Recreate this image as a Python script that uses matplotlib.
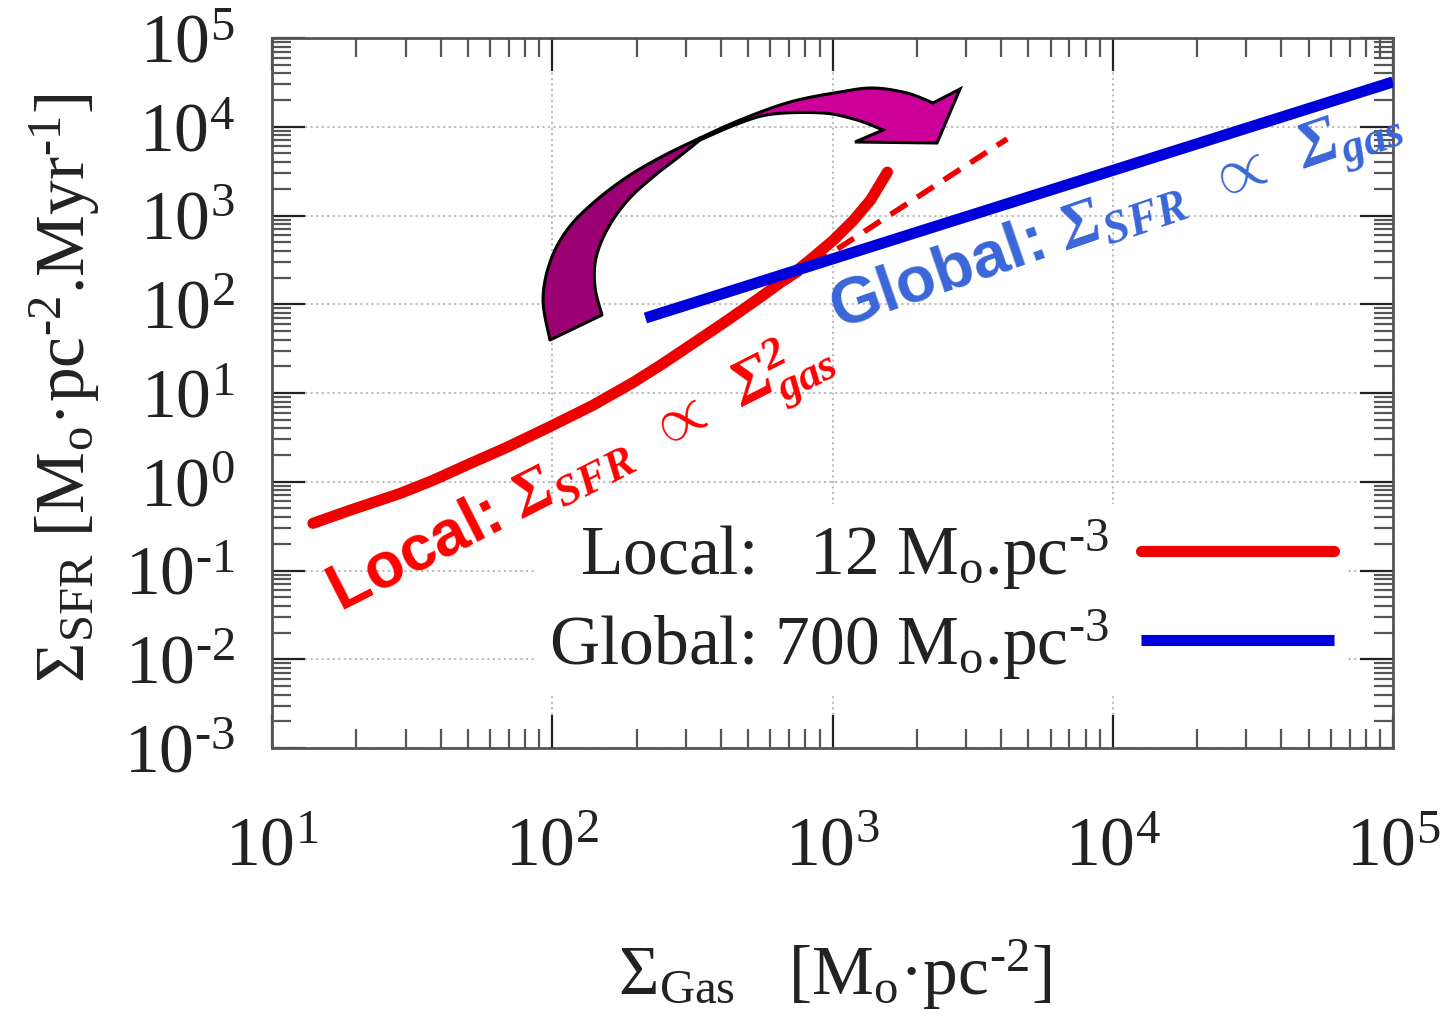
import numpy as np
import matplotlib
matplotlib.use('Agg')
import matplotlib.pyplot as plt
from matplotlib.patches import Polygon
from matplotlib.ticker import LogLocator, NullFormatter, FuncFormatter

plt.rcParams['font.family'] = ['Liberation Serif', 'DejaVu Serif']
plt.rcParams['mathtext.fontset'] = 'custom'
plt.rcParams['mathtext.rm'] = 'Liberation Serif'
plt.rcParams['mathtext.it'] = 'Liberation Serif:italic'
plt.rcParams['mathtext.bf'] = 'Liberation Serif:italic:bold'

# local relation (rho = 12 Mo/pc^3)
gas_local = [14, 19, 28.7, 37.6, 49.7, 69, 100, 140, 194, 243, 319, 422, 553, 726, 855, 1008, 1189, 1367, 1570]
sfr_local = [0.34, 0.478, 0.74, 1.04, 1.55, 2.45, 4.3, 7.3, 13.1, 20.5, 36.4, 66, 120, 224, 340, 528, 887, 1493, 3083]
# slope-2 guide (dashed)
gas_fit = [350, 4200]
sfr_fit = [45, 7300]
# global relation (rho = 700 Mo/pc^3)
gas_global = [215, 1e5]
sfr_global = [70, 32000]

labels = [r'Local:   12 M$_{\rm o}$.pc$^{\text{-}3}$',
          r'Global: 700 M$_{\rm o}$.pc$^{\text{-}3}$']

W, H = 1446, 1022
fig = plt.figure(figsize=(W / 100, H / 100), dpi=100)
ax = fig.add_axes([272 / W, 1 - 748 / H, (1393 - 272) / W, (748 - 38) / H])

ax.plot(gas_local, sfr_local, color='#ee0000', lw=8, solid_capstyle='round',
        solid_joinstyle='round', label=labels[0], zorder=4)
ax.plot(gas_fit, sfr_fit, color='#ee0000', lw=4, ls=(0, (3.5, 2.2)), zorder=3)
ax.plot(gas_global, sfr_global, color='#0000dd', lw=8, solid_capstyle='butt', label=labels[1], zorder=5)


def logfmt(v, pos):
    e = int(round(np.log10(v)))
    s = str(e) if e >= 0 else r'\text{-}' + str(-e)
    return r'$\mathdefault{10^{%s}}$' % s


ax.set_xscale('log')
ax.set_yscale('log')
ax.set_xlim(10, 1e5)
ax.set_ylim(1e-3, 1e5)
for a in (ax.xaxis, ax.yaxis):
    a.set_major_locator(LogLocator(base=10, numticks=20))
    a.set_minor_locator(LogLocator(base=10, subs=np.arange(2, 10), numticks=20))
    a.set_major_formatter(FuncFormatter(logfmt))
    a.set_minor_formatter(NullFormatter())
ax.tick_params(which='both', direction='in', top=True, right=True, color='#555555', width=1.6)
ax.tick_params(which='major', length=24)
ax.tick_params(which='minor', length=14)
ax.tick_params(axis='x', which='major', pad=50, labelsize=50, colors='#222222')
ax.tick_params(axis='y', which='major', pad=27, labelsize=50, colors='#222222')
for s in ax.spines.values():
    s.set_color('#555555')
    s.set_linewidth(2)
ax.grid(True, which='major', ls=':', color='#bbbbbb', lw=1.5)

leg = ax.legend(loc='lower right', bbox_to_anchor=(0.991, 0.025), markerfirst=False,
                fontsize=50, handlelength=2.78, handletextpad=0.46, labelspacing=0.22,
                borderpad=0.2, frameon=True, fancybox=False, framealpha=1)
leg.get_frame().set_edgecolor('none')
for t in leg.get_texts():
    t.set_color('#222222')

fig.text(65 / W, 1 - 388 / H, r'$\Sigma_{\rm SFR}$ [M$_{\rm o}$·pc$^{\text{-}2}$.Myr$^{\text{-}1}$]',
         rotation=90, ha='center', va='center', fontsize=50, color='#222222')
fig.text(835 / W, 1 - 975 / H, r'$\Sigma_{\rm Gas}$   [M$_{\rm o}$·pc$^{\text{-}2}$]',
         ha='center', va='center', fontsize=50, color='#222222')

fig.text(340 / W, 1 - 612 / H,
         r'Local: $\mathbf{\Sigma_{SFR}}\;\;\mathbf{\propto}\;\;\mathbf{\Sigma^{2}_{gas}}$',
         rotation=27, rotation_mode='anchor', ha='left', va='baseline',
         color='#ff0000', family='Liberation Sans', weight='bold', fontsize=46)
fig.text(838 / W, 1 - 330 / H,
         r'Global: $\mathbf{\Sigma_{SFR}}\;\;\mathbf{\propto}\;\;\mathbf{\Sigma_{gas}}$',
         rotation=19, rotation_mode='anchor', ha='left', va='baseline',
         color='#3a66d8', family='Liberation Sans', weight='bold', fontsize=47)


# curved arrow (decoration), pixel coordinates of the picture
def smooth(pts, n=6):
    p = np.array(pts, float)
    p = np.vstack([p[0], p, p[-1]])
    out = []
    for i in range(1, len(p) - 2):
        p0, p1, p2, p3 = p[i - 1], p[i], p[i + 1], p[i + 2]
        for t in np.linspace(0, 1, n, endpoint=False):
            out.append(0.5 * ((2 * p1) + (-p0 + p2) * t + (2 * p0 - 5 * p1 + 4 * p2 - p3) * t ** 2
                              + (-p0 + 3 * p1 - 3 * p2 + p3) * t ** 3))
    out.append(p[-2])
    return np.array(out)


ov = fig.add_axes([0, 0, 1, 1])
ov.set_xlim(0, W)
ov.set_ylim(H, 0)
ov.axis('off')

tail_out = [(550, 340), (543, 300), (550, 262), (567, 230), (593, 203), (627, 177), (663, 156), (700, 138)]
tail_in = [(602, 315), (595, 287), (596, 258), (608, 228), (628, 200), (653, 177), (680, 156), (700, 140)]
tail = np.vstack([smooth(tail_out), smooth(tail_in)[::-1]])
ov.add_patch(Polygon(tail, closed=True, facecolor='#9c0072', edgecolor='black', lw=2.2, joinstyle='round'))

head_top = [(700, 138), (740, 120), (790, 102), (840, 92), (873, 88), (907, 93), (933, 103)]
head_bot = [(700, 140), (740, 123), (773, 114), (823, 113), (857, 120), (883, 130)]
head = np.vstack([smooth(head_top), [(960, 89), (937, 143), (855, 142)], smooth(head_bot)[::-1]])
ov.add_patch(Polygon(head, closed=True, facecolor='#cc0099', edgecolor='black', lw=2.2, joinstyle='miter'))

fig.savefig('out.png', dpi=100)
